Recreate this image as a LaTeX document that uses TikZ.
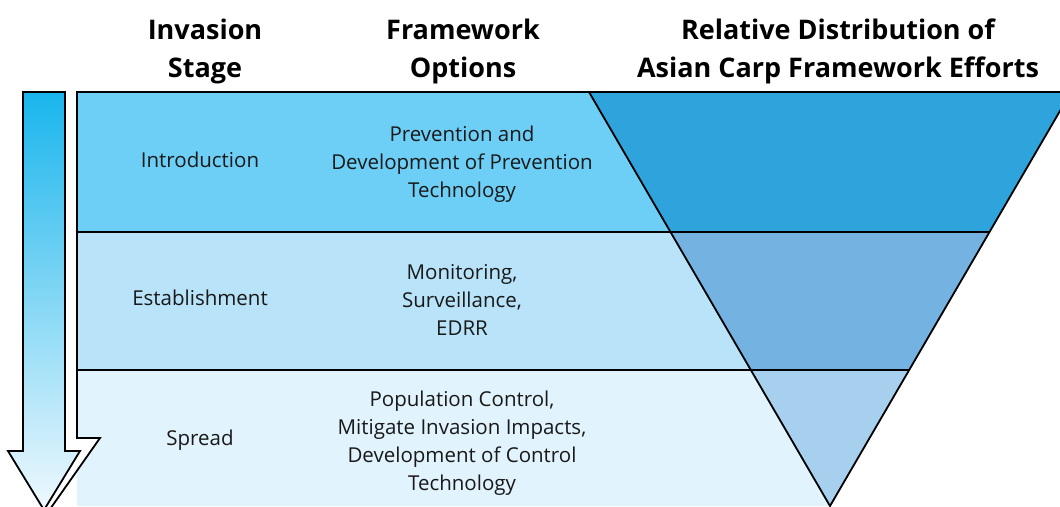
\documentclass[tikz,border=0pt]{standalone}
\usepackage{fontspec}
\setmainfont{Open Sans}
\usepackage{tikz}
\usetikzlibrary{calc}
\definecolor{bandone}{HTML}{6DCFF6}
\definecolor{bandtwo}{HTML}{B8E3F8}
\definecolor{bandthree}{HTML}{E1F3FC}
\definecolor{effone}{HTML}{2FA3DC}
\definecolor{efftwo}{HTML}{74B3E1}
\definecolor{effthree}{HTML}{A7CFEE}
\definecolor{arrowtop}{HTML}{19B5EC}
\definecolor{arrowbot}{HTML}{F0F9FE}
\tikzset{
    header/.style={align=center,font=\fontsize{27}{38}\selectfont\bfseries},
    body/.style={align=center,text=black!90,font=\fontsize{20.5}{28}\selectfont},
    rule/.style={black,line width=1.8pt,line join=miter}
}

\begin{document}
\begin{tikzpicture}[x=1pt,y=-1pt]
    \useasboundingbox (0,0) rectangle (1060,506);
    \begin{scope}
    \clip (0,0) rectangle (1060,506);

    % the funnel
    \coordinate (tl) at (589,92);
    \coordinate (tr) at (1071,92);
    \coordinate (apex) at (830,506);
    \coordinate (l1) at ($(tl)!0.338!(apex)$);
    \coordinate (r1) at ($(tr)!0.338!(apex)$);
    \coordinate (l2) at ($(tl)!0.6715!(apex)$);
    \coordinate (r2) at ($(tr)!0.6715!(apex)$);

    \fill[bandone] (77,92) -- (tl) -- (l1) -- (77,232) -- cycle;
    \fill[bandtwo] (77,232) -- (l1) -- (l2) -- (77,370) -- cycle;
    \fill[bandthree] (77,370) -- (l2) -- (apex) -- (77,506) -- cycle;
    \fill[effone] (tl) -- (tr) -- (r1) -- (l1) -- cycle;
    \fill[efftwo] (l1) -- (r1) -- (r2) -- (l2) -- cycle;
    \fill[effthree] (l2) -- (r2) -- (apex) -- cycle;

    \draw[rule] (77,438) -- (77,92) -- (tr);
    \draw[rule] (77,232) -- (r1);
    \draw[rule] (77,370) -- (r2);
    \draw[rule] (tl) -- (apex) -- (tr);

    % arrow and its white shadow
    \filldraw[rule,fill=white] (35,438) -- (77,438) -- (100,438) -- (48,512) -- (20,470) -- cycle;
    \fill[white] (60,436) rectangle (76,445);
    \shade[top color=arrowtop,bottom color=arrowbot,draw=black,line width=1.8pt,line join=miter]
        (23,92) -- (65,92) -- (65,451) -- (80,451) -- (44,510) -- (8,451) -- (23,451) -- cycle;
    \end{scope}

    % headers
    \node[header] (hdstage) at (205,51) {Invasion\\Stage};
    \node[header] (hdoptions) at (463,51) {Framework\\Options};
    \node[header] (hddist) at (838,51) {Relative Distribution of\\Asian Carp Framework Efforts};

    % stages
    \node[body] (intro) at (200,160) {Introduction};
    \node[body] (estab) at (200,298) {Establishment};
    \node[body] (spread) at (200,440) {Spread};

    % options
    \node[body] (optintro) at (462,164) {Prevention and\\Development of Prevention\\Technology};
    \node[body] (optestab) at (462,300) {Monitoring,\\Surveillance,\\EDRR};
    \node[body] (optspread) at (462,443) {Population Control,\\Mitigate Invasion Impacts,\\Development of Control\\Technology};

\end{tikzpicture}
\end{document}
